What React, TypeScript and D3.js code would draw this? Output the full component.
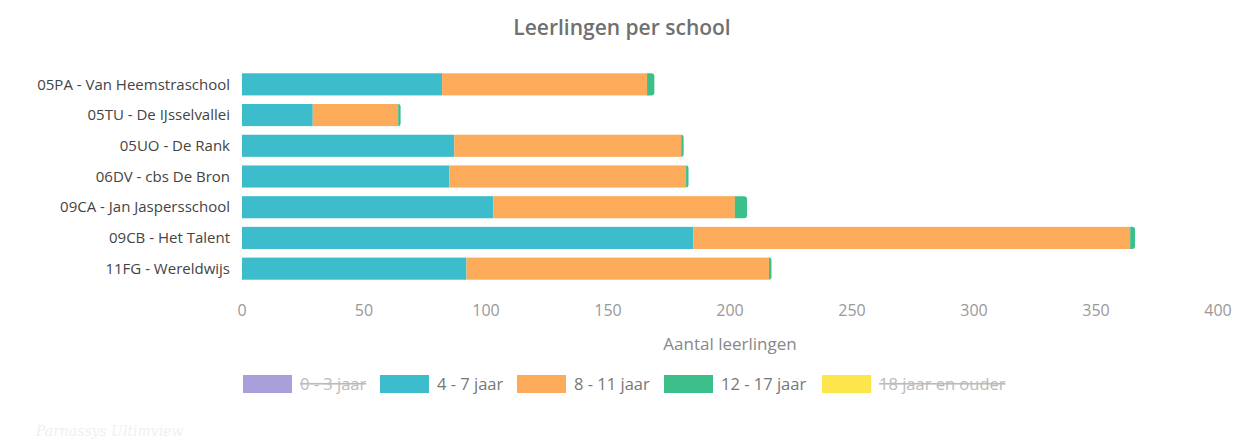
import { useEffect } from "react";
import { scaleLinear, scaleBand } from "d3";

const schools = [
  "05PA - Van Heemstraschool",
  "05TU - De IJsselvallei",
  "05UO - De Rank",
  "06DV - cbs De Bron",
  "09CA - Jan Jaspersschool",
  "09CB - Het Talent",
  "11FG - Wereldwijs",
];

const seriesNames = ["0 - 3 jaar", "4 - 7 jaar", "8 - 11 jaar", "12 - 17 jaar", "18 jaar en ouder"];
const seriesColors = ["#a99fdb", "#3dbdcc", "#fcab5b", "#3dbf8c", "#fde64b"];
const seriesVisible = [false, true, true, true, false];

const age0to3 = [0, 0, 0, 0, 0, 0, 0];
const age4to7 = [82, 29, 87, 85, 103, 185, 92];
const age8to11 = [84, 35, 93, 97, 99, 179, 124];
const age12to17 = [3, 1, 1, 1, 5, 2, 1];
const age18plus = [0, 0, 0, 0, 0, 0, 0];

const xTicks = [0, 50, 100, 150, 200, 250, 300, 350, 400];

const W = 1237;
const H = 439;
const FONT = "'Open Sans', 'Noto Sans', sans-serif";

function roundedRight(x: number, y: number, w: number, h: number, r: number) {
  const rr = Math.min(r, w, h / 2);
  return `M${x},${y}H${x + w - rr}Q${x + w},${y} ${x + w},${y + rr}V${y + h - rr}Q${x + w},${y + h} ${x + w - rr},${y + h}H${x}Z`;
}

export default function App() {
  useEffect(() => {
    document.body.style.margin = "0";
  }, []);

  const series = [age0to3, age4to7, age8to11, age12to17, age18plus];
  const x = scaleLinear().domain([0, 400]).range([242, 1218]);
  const y = scaleBand().domain(schools).range([69, 284]).paddingInner(0.28).paddingOuter(0.14);

  const visibleIdx = series.map((_, i) => i).filter((i) => seriesVisible[i]);
  const lastVisible = visibleIdx[visibleIdx.length - 1];

  const legendX = [243, 380, 517, 664, 822];

  return (
    <svg width={W} height={H} style={{ display: "block", background: "#fff" }} fontFamily={FONT}>
      <text x={622} y={35} textAnchor="middle" fontSize={21} fontWeight={600} fill="#707070">
        Leerlingen per school
      </text>

      {schools.map((s, row) => {
        let acc = 0;
        const yy = y(s)!;
        return (
          <g key={s}>
            <text x={230} y={yy + y.bandwidth() / 2} dy="0.35em" textAnchor="end" fontSize={15} fill="#444">
              {s}
            </text>
            {visibleIdx.map((si) => {
              const v = series[si][row];
              const x0 = x(acc);
              acc += v;
              const x1 = x(acc);
              if (v <= 0) return null;
              if (si === lastVisible)
                return <path key={si} d={roundedRight(x0, yy, x1 - x0, y.bandwidth(), 3)} fill={seriesColors[si]} />;
              return <rect key={si} x={x0} y={yy} width={x1 - x0} height={y.bandwidth()} fill={seriesColors[si]} />;
            })}
          </g>
        );
      })}

      {xTicks.map((t) => (
        <text key={t} x={x(t)} y={316} textAnchor="middle" fontSize={16} fill="#999">
          {t}
        </text>
      ))}
      <text x={(x(0) + x(400)) / 2} y={350} textAnchor="middle" fontSize={17} fill="#888">
        Aantal leerlingen
      </text>

      {seriesNames.map((n, i) => (
        <g key={n}>
          <rect x={legendX[i]} y={375} width={49} height={18} fill={seriesColors[i]} />
          <text
            x={legendX[i] + 57}
            y={384}
            dy="0.35em"
            fontSize={16.5}
            fill={seriesVisible[i] ? "#777" : "#bbb"}
            textDecoration={seriesVisible[i] ? undefined : "line-through"}
          >
            {n}
          </text>
        </g>
      ))}

      <text x={36} y={436} fontSize={14} fontStyle="italic" fontFamily="'DejaVu Serif', serif" fill="#f0f0f0">
        Parnassys Ultimview
      </text>
    </svg>
  );
}
